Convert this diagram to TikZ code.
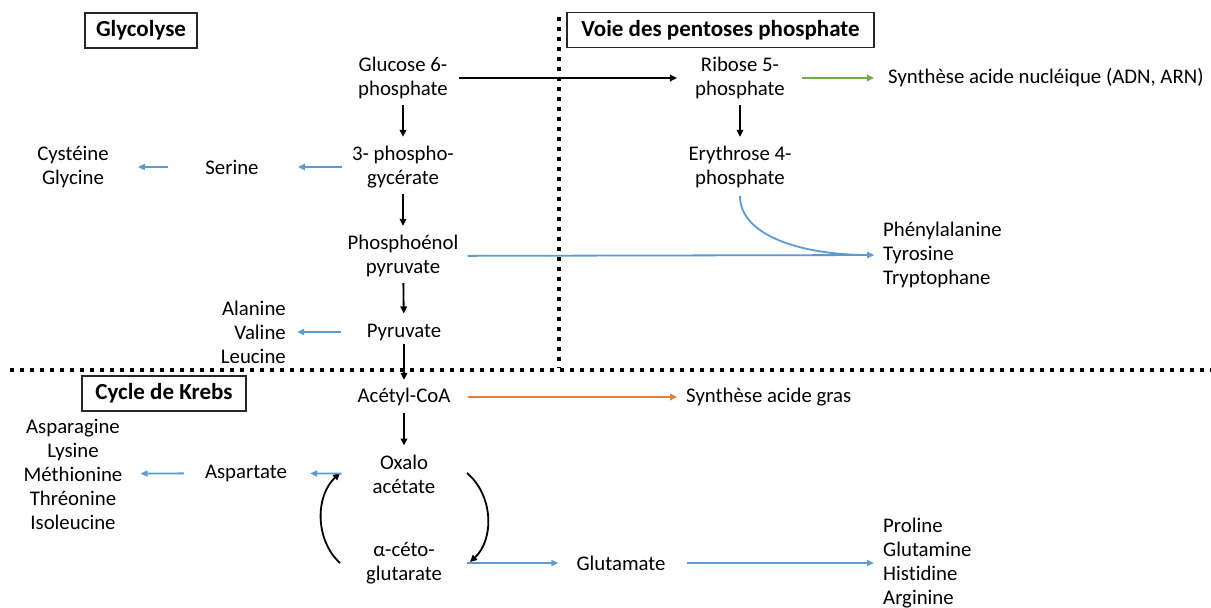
\documentclass[tikz,border=0pt]{standalone}
\usepackage{fontspec}
\setmainfont{Carlito}[Ligatures=NoCommon]
\definecolor{popblue}{RGB}{91, 155, 213}
\definecolor{poporange}{RGB}{237, 125, 49}
\definecolor{popgreen}{RGB}{112, 173, 71}
\usetikzlibrary{arrows.meta, positioning, calc}

\begin{document}
\begin{tikzpicture}[x=1pt, y=-1pt,
  every node/.style={font=\fontsize{20.8}{24}\selectfont, align=center, inner sep=0pt},
  titlebox/.style={draw=black!85, line width=1.2pt, font=\fontsize{23}{28}\selectfont\bfseries, minimum height=35pt},
  mainarrow/.style={-{Triangle[length=7pt, width=6.5pt]}, line width=1.8pt, black},
  bluearrow/.style={-{Triangle[length=7pt, width=6pt]}, line width=1.8pt, popblue},
  downstep/.style={mainarrow, shorten <=6pt, shorten >=9pt},
  sepline/.style={line width=4pt, dash pattern=on 4pt off 6pt}]
  \useasboundingbox (0,0) rectangle (1211,608);

  % separations
  \draw[sepline] (559,17) -- (559,368);
  \draw[sepline] (10,370) -- (1211,370);

  % titles
  \node[titlebox, minimum width=112pt] (glyco) at (141,30.5) {Glycolyse};
  \node[titlebox, minimum width=307pt] (ppp) at (720.5,30) {Voie des pentoses phosphate};
  \node[titlebox, minimum width=164pt] (krebs) at (164,393.5) {Cycle de Krebs};

  % glycolyse
  \node (g6p) at (403,78) {Glucose 6-\\phosphate};
  \node (pg3) at (403,167) {3- phospho-\\gycérate};
  \node (serine) at (232,167) {Serine};
  \node (cysgly) at (73,167) {Cystéine\\Glycine};
  \node (pep) at (403,256) {Phosphoénol\\pyruvate};
  \node (pyr) at (404,332) {Pyruvate};
  \node[anchor=east, align=right] (alaval) at (286,332) {Alanine\\Valine\\Leucine};

  % pentoses phosphate
  \node (r5p) at (740,78) {Ribose 5-\\phosphate};
  \node[anchor=west] (nucl) at (888,78) {Synthèse acide nucléique (ADN, ARN)};
  \node (e4p) at (740,167) {Erythrose 4-\\phosphate};
  \node[anchor=west, align=left] (aro) at (883,255) {Phénylalanine\\Tyrosine\\Tryptophane};

  % Krebs
  \node (acoa) at (404,397) {Acétyl-CoA};
  \node[anchor=west] (fa) at (686,397) {Synthèse acide gras};
  \node (oaa) at (404,474) {Oxalo\\acétate};
  \node (asp) at (246,473) {Aspartate};
  \node (aspfam) at (73,474) {Asparagine\\Lysine\\Méthionine\\Thréonine\\Isoleucine};
  \node (akg) at (404,563) {α-céto-\\glutarate};
  \node (glu) at (621,563) {Glutamate};
  \node[anchor=west, align=left] (glufam) at (883,563) {Proline\\Glutamine\\Histidine\\Arginine};

  % black steps
  \draw[mainarrow, shorten <=11pt, shorten >=18pt] (g6p.east) -- (r5p.west);
  \draw[downstep] (g6p) -- (pg3);
  \draw[downstep] (pg3) -- (pep);
  \draw[mainarrow, shorten <=6pt, shorten >=10pt] (pep) -- (pyr);
  \draw[mainarrow, shorten <=3pt, shorten >=8pt] (pyr) -- (acoa);
  \draw[mainarrow, shorten <=7pt, shorten >=9pt] (acoa) -- (oaa);
  \draw[downstep] (r5p) -- (e4p);
  \draw[mainarrow] (340,563) .. controls (315,540) and (315,496) .. (340,473);
  \draw[mainarrow] (467,473) .. controls (494,496) and (494,540) .. (470,562);

  % coloured outputs
  \draw[mainarrow, popgreen, shorten <=17pt, shorten >=14pt] (r5p) -- (nucl);
  \draw[mainarrow, poporange, shorten <=17pt, shorten >=9pt] (acoa) -- (fa);
  \draw[bluearrow, shorten <=10pt, shorten >=39pt] (pg3) -- (serine);
  \draw[bluearrow, shorten <=37pt, shorten >=29pt] (serine) -- (cysgly);
  \draw[bluearrow, shorten <=9pt, shorten >=9pt] (pep) -- (aro.west);
  \draw[bluearrow, shorten <=8pt, shorten >=9pt] (e4p.south) .. controls +(0,48) and +(-80,0) .. (aro.west);
  \draw[bluearrow, shorten <=26pt, shorten >=11pt] (pyr) -- (alaval);
  \draw[bluearrow, shorten <=31pt, shorten >=23pt] (oaa) -- (asp);
  \draw[bluearrow, shorten <=21pt, shorten >=18pt] (asp) -- (aspfam);
  \draw[bluearrow, shorten <=25pt, shorten >=18pt] (akg) -- (glu);
  \draw[bluearrow, shorten <=21pt, shorten >=9pt] (glu) -- (glufam);
\end{tikzpicture}
\end{document}
